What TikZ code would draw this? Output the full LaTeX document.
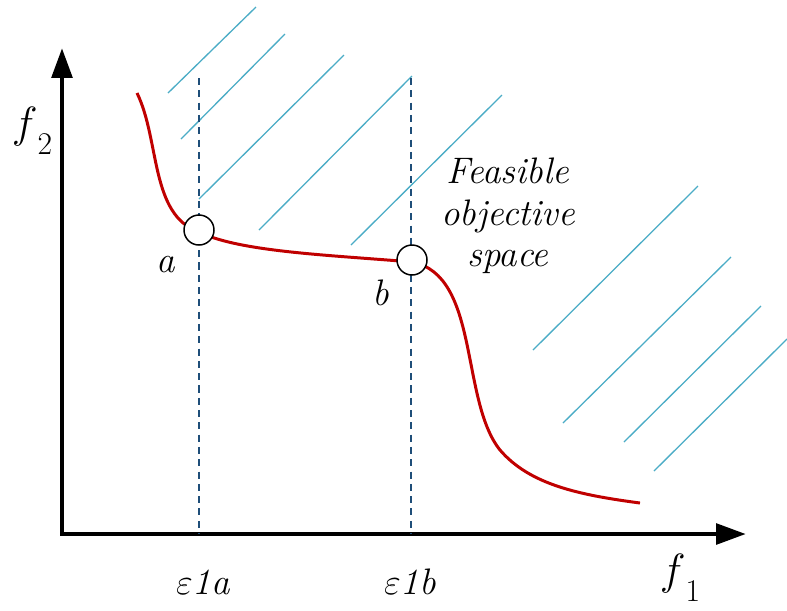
\documentclass[tikz,border=0pt]{standalone}
\usepackage{fontspec}
\usetikzlibrary{arrows.meta}

\definecolor{frontred}{HTML}{C00000}
\definecolor{hatchblue}{HTML}{4BACC6}
\definecolor{epsblue}{HTML}{1F4E79}

\tikzset{
  axis/.style={line width=2.8pt,line join=miter,
    {Triangle[length=17pt,width=11.5pt]}-{Triangle[length=17pt,width=11.5pt]}},
  hatch/.style={hatchblue,line width=0.75pt},
  front/.style={frontred,line width=1.7pt},
  epsline/.style={epsblue,line width=0.8pt,dash pattern=on 4pt off 3pt},
  ptmark/.style={draw,circle,fill=white,line width=0.85pt,minimum size=0.6cm,inner sep=0pt},
  lbl/.style={font=\fontsize{21}{26}\selectfont\itshape,inner sep=0pt},
}

\begin{document}
\begin{tikzpicture}[x=0.02cm,y=-0.02cm]
\useasboundingbox (0,0) rectangle (787,610);

% feasible region hatching
\draw[hatch] (168,93) -- (256,7)
  (181,139) -- (285,34)
  (199,199) -- (344,55)
  (259,230) -- (412,76)
  (351,245) -- (502,95)
  (533,350) -- (698,186)
  (563,423) -- (731,257)
  (624,442) -- (761,306)
  (654,471) -- (787,339);

% axes
\coordinate (ytip) at (62,48);
\coordinate (origin) at (62,534);
\coordinate (xtip) at (746,534);
\draw[axis] (ytip) -- (origin) -- (xtip);

% pareto front
\draw[front] (137,93) .. controls (160,140) and (150,215) .. (199,232)
  .. controls (240,252) and (330,255) .. (412,262)
  .. controls (480,275) and (460,400) .. (500,450)
  .. controls (530,485) and (580,495) .. (640,503);

% epsilon constraints
\coordinate (topa) at (199,78);
\coordinate (bota) at (199,534);
\coordinate (topb) at (411,78);
\coordinate (botb) at (411,534);
\draw[epsline] (topa) -- (bota);
\draw[epsline] (topb) -- (botb);

\node[ptmark] (a) at (199,230) {};
\node[ptmark] (b) at (412,260) {};

% labels
\node[lbl] (alabel) at (166,265) {a};
\node[lbl] (blabel) at (381,293) {b};
\node[lbl] (epsa) at (203,582) {$\varepsilon$1a};
\node[lbl] (epsb) at (410,582) {$\varepsilon$1b};
\node[lbl,align=center,font=\fontsize{21}{23.5}\selectfont\itshape] (feas) at (508,216) {Feasible\\objective\\space};
\node[inner sep=0pt] (f1) at (680,578) {\fontsize{27}{30}\selectfont$f$\raisebox{-0.35em}{\fontsize{18}{20}\selectfont 1}};
\node[inner sep=0pt] (f2) at (32,131) {\fontsize{27}{30}\selectfont$f$\raisebox{-0.35em}{\fontsize{18}{20}\selectfont 2}};
\end{tikzpicture}
\end{document}
